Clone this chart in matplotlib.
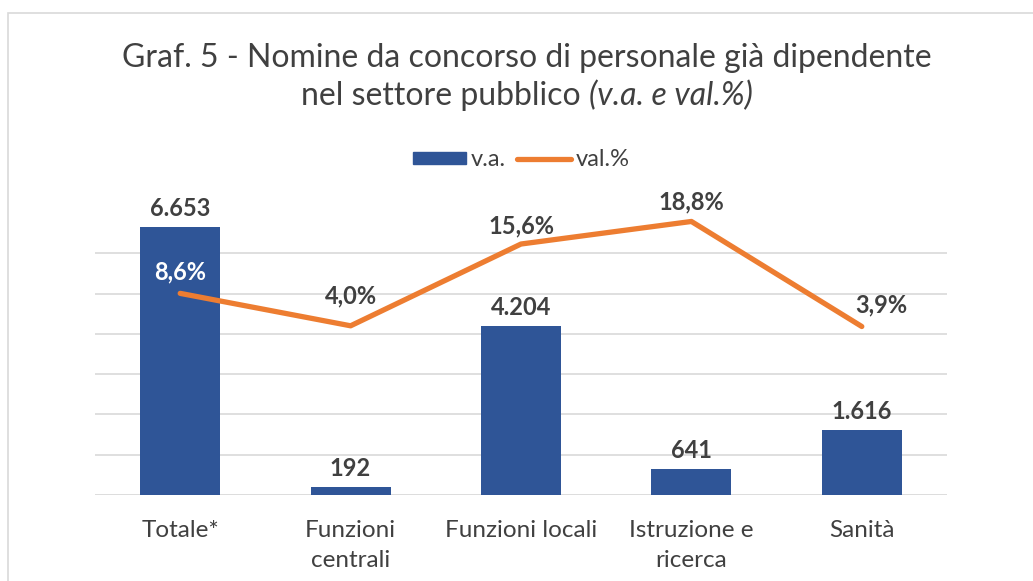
import matplotlib.pyplot as plt
from matplotlib.patches import Rectangle
from matplotlib.lines import Line2D

categories = ["Totale*", "Funzioni\ncentrali", "Funzioni locali", "Istruzione e\nricerca", "Sanità"]
va_values = [6653, 192, 4204, 641, 1616]
pct_values = [8.6, 4.0, 15.6, 18.8, 3.9]
va_labels = ["6.653", "192", "4.204", "641", "1.616"]
pct_labels = ["8,6%", "4,0%", "15,6%", "18,8%", "3,9%"]

blue = "#2F5597"
orange = "#ED7D31"
dark = "#404040"

plt.rcParams['font.family'] = ['Lato', 'DejaVu Sans']

fig = plt.figure(figsize=(10.33, 5.81), dpi=100)
# chart frame (cropped)
fig.patches.append(Rectangle((8 / 1033, -0.1), 1.2, 1 - 13 / 581 + 0.1,
                             transform=fig.transFigure, fill=False,
                             edgecolor="#D9D9D9", linewidth=1.2))

ax = fig.add_axes([95 / 1033, 86 / 581, 852 / 1033, 282 / 581])
x = list(range(len(categories)))
ax.bar(x, va_values, width=0.47, color=blue, zorder=2)
ax.set_xlim(-0.5, 4.5)
ax.set_ylim(0, 7000)
for g in range(1000, 7000, 1000):
    ax.axhline(g, color="#D9D9D9", linewidth=1.2, zorder=0)
ax.axhline(0, color="#D9D9D9", linewidth=2, zorder=1)
for s in ax.spines.values():
    s.set_visible(False)
ax.set_yticks([])
ax.set_xticks(x)
ax.set_xticklabels(categories, fontsize=17.5, color=dark, linespacing=1.55)
ax.tick_params(axis="x", length=0, pad=18)
for xi, v, lab in zip(x, va_values, va_labels):
    ax.annotate(lab, (xi, v), xytext=(0, 5), textcoords="offset points",
                ha="center", va="bottom", fontsize=17, fontweight="bold",
                color=dark)

ax2 = ax.twinx()
ax2.plot(x, pct_values, color=orange, linewidth=3.8, solid_capstyle="round", zorder=3)
ax2.set_ylim(-20, 20)
ax2.set_yticks([])
for s in ax2.spines.values():
    s.set_visible(False)
pct_offsets = [(0, 7), (0, 13), (0, 5), (0, 6), (14, 7)]
pct_colors = ["white", dark, dark, dark, dark]
for xi, v, lab, off, c in zip(x, pct_values, pct_labels, pct_offsets, pct_colors):
    ax2.annotate(lab, (xi, v), xytext=off, textcoords="offset points",
                 ha="center", va="bottom", fontsize=17, fontweight="bold",
                 color=c)

fig.text(527 / 1033, 1 - 58 / 581, "Graf. 5 - Nomine da concorso di personale già dipendente",
         ha="center", va="center", fontsize=23, color=dark)
# second title line with italic part
t1 = fig.text(0, 0, "nel settore pubblico ", fontsize=23, color=dark)
t2 = fig.text(0, 0, "(v.a. e val.%)", fontsize=23, color=dark, style="italic")
fig.canvas.draw()
r = fig.canvas.get_renderer()
w1 = t1.get_window_extent(r).width
w2 = t2.get_window_extent(r).width
x0 = 527 - (w1 + w2) / 2
t1.set_position((x0 / 1033, 1 - 96 / 581))
t1.set_va("center")
t2.set_position(((x0 + w1) / 1033, 1 - 96 / 581))
t2.set_va("center")

handles = [Rectangle((0, 0), 1, 1, color=blue),
           Line2D([0], [0], color=orange, linewidth=3.8, solid_capstyle="round")]
fig.legend(handles, ["v.a.", "val.%"], loc="center", bbox_to_anchor=(521 / 1033, 1 - 160 / 581),
           ncol=2, frameon=False, fontsize=17, handlelength=2.25, handleheight=0.45,
           handletextpad=0.2, columnspacing=0.5, labelcolor=dark)

fig.savefig("out.png", dpi=100)
